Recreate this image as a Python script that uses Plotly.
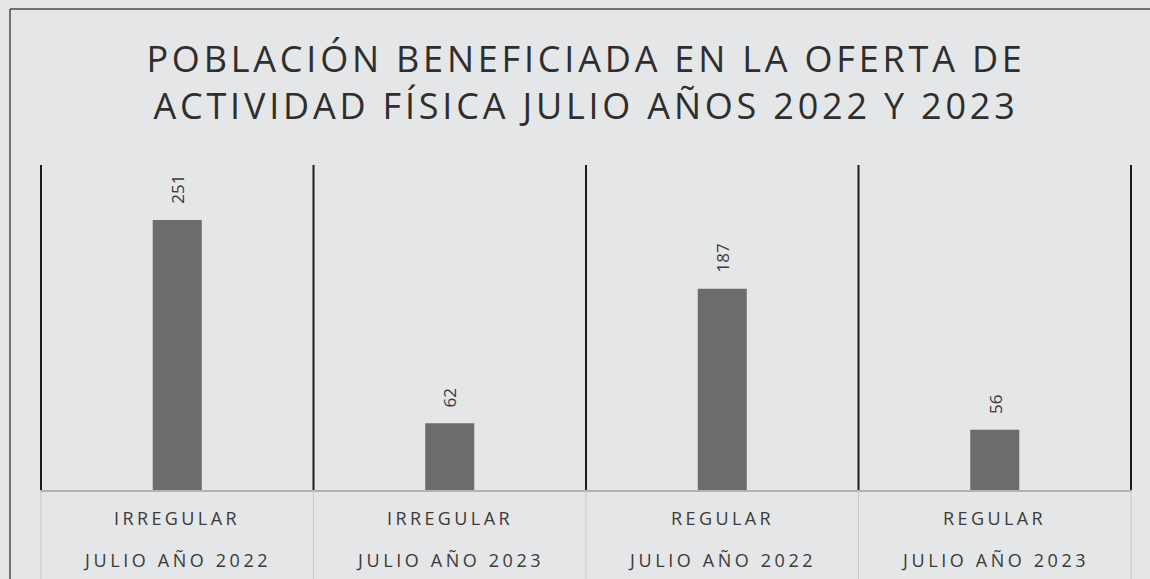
import plotly.graph_objects as go

# ---- data ----
tipo = ["IRREGULAR", "IRREGULAR", "REGULAR", "REGULAR"]
periodo = ["JULIO AÑO 2022", "JULIO AÑO 2023", "JULIO AÑO 2022", "JULIO AÑO 2023"]
valores = [251, 62, 187, 56]
titulo_l1 = "POBLACIÓN BENEFICIADA EN LA OFERTA DE"
titulo_l2 = "ACTIVIDAD FÍSICA JULIO AÑOS 2022 Y 2023"

cats = [f"{t} {p}" for t, p in zip(tipo, periodo)]

W, H = 1150, 579
L, R, T, B = 40, 18, 165, 89
ph = H - T - B
pw = W - L - R

bg = "#e4e6e8"
txt = "#3a3a3a"
font = "Open Sans"


def spaced(s, px):
    return f'<span style="letter-spacing:{px}px">{s}</span>'


fig = go.Figure()
fig.add_trace(go.Bar(
    x=cats, y=valores, width=0.18,
    marker=dict(color="#6c6c6c", line=dict(width=0)),
    hoverinfo="skip",
))

annotations = []
for c, v in zip(cats, valores):
    annotations.append(dict(
        x=c, y=v, xref="x", yref="y", text=str(v), showarrow=False,
        textangle=-90, yanchor="bottom", yshift=14,
        font=dict(family=font, size=17, color=txt),
    ))
for c, t, p in zip(cats, tipo, periodo):
    annotations.append(dict(
        x=c, y=0, xref="x", yref="paper", text=spaced(t, 3.4), showarrow=False,
        yanchor="middle", yshift=-28, xshift=0,
        font=dict(family=font, size=18, color=txt),
    ))
    annotations.append(dict(
        x=c, y=0, xref="x", yref="paper", text=spaced(p, 3.6), showarrow=False,
        yanchor="middle", yshift=-70, xshift=0,
        font=dict(family=font, size=18, color=txt),
    ))

shapes = []
# black category dividers in the plot area
for i in range(len(cats) + 1):
    shapes.append(dict(
        type="line", xref="x", yref="paper",
        x0=i - 0.5, x1=i - 0.5, y0=0, y1=1,
        line=dict(color="#1e1e1e", width=2),
    ))
# light separators below baseline
for i in range(len(cats) + 1):
    shapes.append(dict(
        type="line", xref="x", yref="paper",
        x0=i - 0.5, x1=i - 0.5, y0=0, y1=-(B + 5) / ph,
        line=dict(color="#c6c8ca", width=1),
    ))
# frame of the scanned page
fx = (10 - L) / pw
fy = (H - B - 9) / ph
shapes.append(dict(
    type="line", xref="paper", yref="paper",
    x0=fx, x1=fx, y0=fy, y1=-(B + 5) / ph,
    line=dict(color="#4a4a4a", width=1.5),
))
shapes.append(dict(
    type="line", xref="paper", yref="paper",
    x0=fx, x1=(W + 20 - L) / pw, y0=fy, y1=fy,
    line=dict(color="#4a4a4a", width=1.5),
))

fig.update_layout(
    width=W, height=H,
    margin=dict(l=L, r=R, t=T, b=B),
    paper_bgcolor=bg, plot_bgcolor=bg,
    showlegend=False,
    title=dict(
        text=spaced(titulo_l1, 3.8) + "<br>" + spaced(titulo_l2, 3.8),
        x=0.5, xref="paper", xanchor="center",
        y=1 - 72 / H, yref="container", yanchor="middle",
        font=dict(family=font, size=36, color="#2e2e2e"),
    ),
    xaxis=dict(
        type="category", showgrid=False,
        showticklabels=False, ticks="",
        showline=True, linecolor="#b0b2b4", linewidth=1.5,
        zeroline=False, fixedrange=True,
    ),
    yaxis=dict(
        range=[0, 302], showgrid=False, showticklabels=False,
        zeroline=False, showline=False, ticks="", fixedrange=True,
    ),
    annotations=annotations,
    shapes=shapes,
)

post = "document.body.style.margin='0';document.body.style.overflow='hidden';"
fig.write_html("out.html", post_script=post, config={"displayModeBar": False})
